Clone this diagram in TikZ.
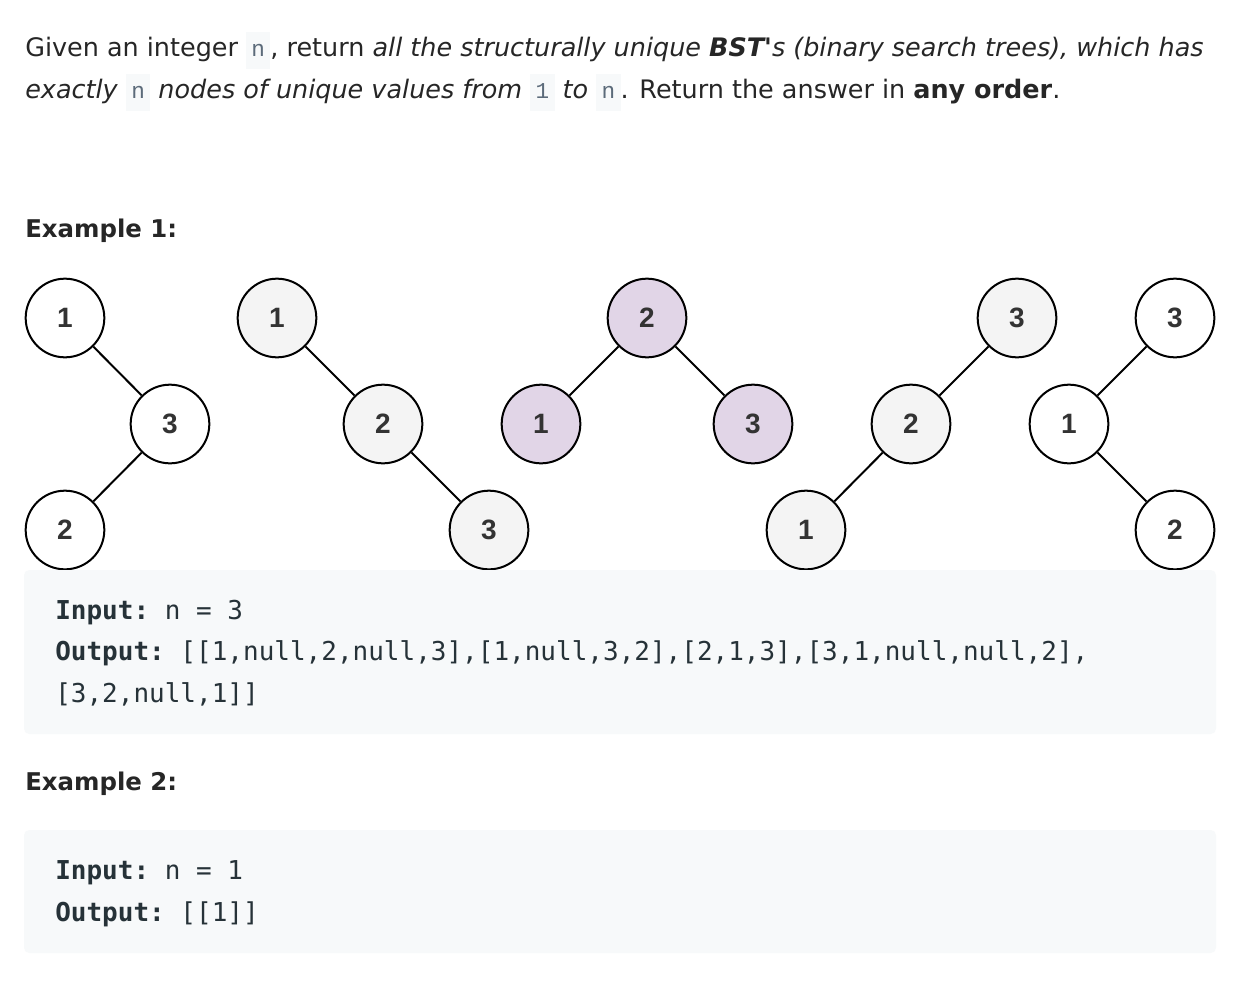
\documentclass[tikz,border=0pt]{standalone}
\usepackage{fontspec}
\setmainfont{DejaVu Sans}
\setmonofont{DejaVu Sans Mono}
\newfontfamily\inlinemono{Liberation Mono}
\newfontfamily\numfont{Liberation Sans}
\definecolor{txt}{HTML}{262626}
\definecolor{codebg}{HTML}{F7F9FA}
\definecolor{codetxt}{HTML}{263238}
\definecolor{icodetxt}{HTML}{5C6B7A}
\definecolor{grayfill}{HTML}{F4F4F4}
\definecolor{lavfill}{HTML}{E1D5E7}
\definecolor{numtxt}{HTML}{333333}
\newcommand\icode[1]{{\setlength{\fboxsep}{4pt}\colorbox{codebg}{\inlinemono\fontsize{17pt}{20pt}\selectfont\color{icodetxt}\rule[-6pt]{0pt}{20pt}#1}}}
\begin{document}
\begin{tikzpicture}[x=0.75pt,y=-0.75pt,
  bst/.style={circle,draw=black,line width=1.5pt,minimum size=59pt,inner sep=0pt,
    font=\numfont\fontsize{21pt}{24pt}\selectfont\bfseries,text=numtxt},
  edge/.style={draw=black,line width=1.5pt},
  para/.style={anchor=base west,inner sep=0pt,text=txt,font=\fontsize{19.1pt}{24pt}\selectfont},
  head/.style={anchor=base west,inner sep=0pt,text=txt,font=\fontsize{18.3pt}{24pt}\selectfont\bfseries},
  codeline/.style={anchor=base west,inner sep=0pt,text=codetxt,font=\ttfamily\fontsize{19.5pt}{24pt}\selectfont},
  codebox/.style={fill=codebg,rounded corners=4pt}]
\useasboundingbox (0,0) rectangle (1248,992);
\fill[white] (0,0) rectangle (1248,992);

% paragraph
\node[para] (p1) at (25,56) {Given an integer \icode{n}, return \textit{all the structurally unique \textbf{BST\textquotesingle}s (binary search trees), which has}};
\node[para] (p2) at (25,98) {\textit{exactly} \icode{n} \textit{nodes of unique values from} \icode{1} \textit{to} \icode{n}. Return the answer in \textbf{any order}.};

\node[head] (ex1) at (25,237) {Example 1:};

% tree 1
\node[bst,fill=white] (t1a) at (65,318) {1};
\node[bst,fill=white] (t1b) at (170,424) {3};
\node[bst,fill=white] (t1c) at (65,530) {2};
\draw[edge] (t1a) -- (t1b);
\draw[edge] (t1b) -- (t1c);
% tree 2
\node[bst,fill=grayfill] (t2a) at (277,318) {1};
\node[bst,fill=grayfill] (t2b) at (383,424) {2};
\node[bst,fill=grayfill] (t2c) at (489,530) {3};
\draw[edge] (t2a) -- (t2b);
\draw[edge] (t2b) -- (t2c);
% tree 3
\node[bst,fill=lavfill] (t3a) at (647,318) {2};
\node[bst,fill=lavfill] (t3b) at (541,424) {1};
\node[bst,fill=lavfill] (t3c) at (753,424) {3};
\draw[edge] (t3a) -- (t3b);
\draw[edge] (t3a) -- (t3c);
% tree 4
\node[bst,fill=grayfill] (t4a) at (1017,318) {3};
\node[bst,fill=grayfill] (t4b) at (911,424) {2};
\node[bst,fill=grayfill] (t4c) at (806,530) {1};
\draw[edge] (t4a) -- (t4b);
\draw[edge] (t4b) -- (t4c);
% tree 5
\node[bst,fill=white] (t5a) at (1175,318) {3};
\node[bst,fill=white] (t5b) at (1069,424) {1};
\node[bst,fill=white] (t5c) at (1175,530) {2};
\draw[edge] (t5a) -- (t5b);
\draw[edge] (t5b) -- (t5c);

% code box 1
\fill[codebox] (24,570) rectangle (1216,734);
\node[codeline] (c1) at (55,619) {\textbf{Input:} n = 3};
\node[codeline] (c2) at (55,660) {\textbf{Output:} [[1,null,2,null,3],[1,null,3,2],[2,1,3],[3,1,null,null,2],};
\node[codeline] (c3) at (55,702) {[3,2,null,1]]};

\node[head] (ex2) at (25,790) {Example 2:};

% code box 2
\fill[codebox] (24,830) rectangle (1216,953);
\node[codeline] (d1) at (55,879) {\textbf{Input:} n = 1};
\node[codeline] (d2) at (55,921) {\textbf{Output:} [[1]]};
\end{tikzpicture}
\end{document}
